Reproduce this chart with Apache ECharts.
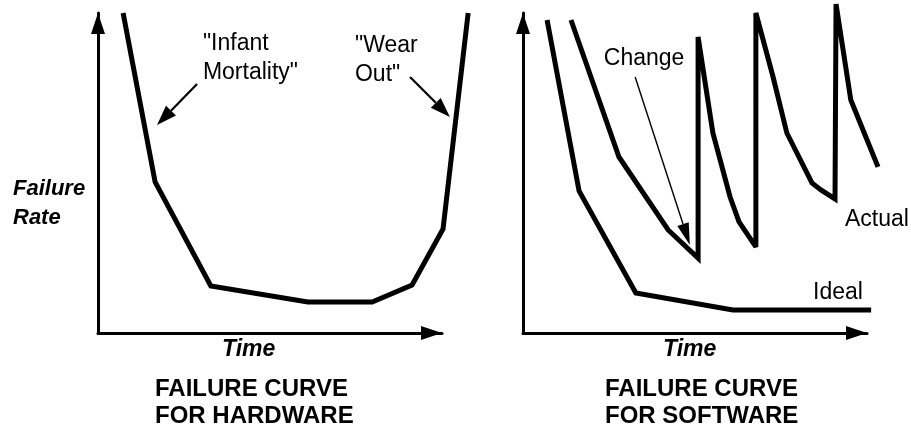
<!DOCTYPE html>
<html>
<head>
<meta charset="utf-8">
<script src="https://cdn.jsdelivr.net/npm/echarts@6/dist/echarts.min.js"></script>
<style>html,body{margin:0;padding:0;background:#fff}#c{width:911px;height:429px}</style>
</head>
<body>
<div id="c"></div>
<script>
// ---- Data (time / failure-rate in arbitrary units 0..100) ----
const hwTime = [7.3, 16.6, 32.8, 61.0, 79.7, 91.3, 100.3, 107.6];
const hwRate = [100, 47.2, 14.7, 9.7, 9.7, 15.0, 32.5, 100];

const idealTime = [7.0, 16.3, 32.8, 61.0, 101.2];
const idealRate = [97.8, 44.4, 12.5, 7.2, 7.2];

const actualTime = [13.95, 27.9, 42.2, 50.9, 50.9, 55.2, 60.2, 62.8, 67.7, 67.7, 72.7, 76.7, 84.0, 86.6, 90.7, 91.0, 95.3, 103.2];
const actualRate = [97.8, 55.0, 32.2, 23.4, 92.5, 62.5, 42.5, 34.7, 26.9, 100, 80.0, 62.5, 46.9, 44.7, 41.9, 102.8, 72.8, 51.9];

// annotation arrows: [fromTime, fromRate, toTime, toRate]
const hwArrows = [[28.8, 77.8, 17.15, 65.0], [90.7, 80.0, 102.3, 67.5]];
const swArrows = [[32.6, 80.0, 48.5, 27.5]];

// annotation texts: [time, rate, text]
const hwNotes = [[30.5, 95.0, '"Infant\nMortality"'], [74.7, 94.4, '"Wear\nOut"']];
const swNotes = [[23.5, 90.3, 'Change'], [93.6, 40.0, 'Actual'], [84.3, 17.0, 'Ideal']];

const panelTitles = ['FAILURE CURVE\nFOR HARDWARE', 'FAILURE CURVE\nFOR SOFTWARE'];
const xAxisTitle = 'Time';
const yAxisTitle = 'Failure\nRate';

// ---- Chart ----
const FONT = '"Liberation Sans", Arial, Helvetica, sans-serif';
const zip = (a, b) => a.map((v, i) => [v, b[i]]);

function axis(gridIndex) {
  return {
    gridIndex, type: 'value', min: 0, max: 100,
    axisLine: { show: true, onZero: false, symbol: ['none', 'triangle'], symbolSize: [14, 21], symbolOffset: [0, -10.5],
      lineStyle: { color: '#000', width: 3 } },
    axisTick: { show: false }, axisLabel: { show: false }, splitLine: { show: false }
  };
}

function arrowItem(headLen, headW, lw) {
  return function (params, api) {
    const a = api.coord([api.value(0), api.value(1)]);
    const b = api.coord([api.value(2), api.value(3)]);
    const dx = b[0] - a[0], dy = b[1] - a[1], len = Math.hypot(dx, dy);
    const ux = dx / len, uy = dy / len;
    const bx = b[0] - ux * headLen, by = b[1] - uy * headLen;
    const px = -uy * headW / 2, py = ux * headW / 2;
    return {
      type: 'group', children: [
        { type: 'line', shape: { x1: a[0], y1: a[1], x2: bx, y2: by }, style: { stroke: '#000', lineWidth: lw } },
        { type: 'polygon', shape: { points: [[b[0], b[1]], [bx + px, by + py], [bx - px, by - py]] }, style: { fill: '#000' } }
      ]
    };
  };
}

// whole curve drawn as one polyline (so it may run past the axis arrows, as in the original)
function curve(xi, xs, ys) {
  return {
    type: 'custom', xAxisIndex: xi, yAxisIndex: xi, data: zip(xs, ys), clip: false, silent: true,
    encode: { x: 0, y: 1 },
    renderItem: function (params, api) {
      if (params.dataIndex !== 0) return;
      const pts = xs.map((x, i) => api.coord([x, ys[i]]));
      return { type: 'polyline', shape: { points: pts },
        style: { stroke: '#000', fill: null, lineWidth: 5, lineJoin: 'miter', miterLimit: 3, lineCap: 'butt' } };
    }
  };
}

function notes(xi, data) {
  return {
    type: 'scatter', xAxisIndex: xi, yAxisIndex: xi, data, symbolSize: 0, clip: false, silent: true,
    itemStyle: { opacity: 1 },
    label: { show: true, position: 'inside', align: 'left', verticalAlign: 'top', formatter: p => p.value[2],
      color: '#000', opacity: 1, fontFamily: FONT, fontSize: 23, lineHeight: 29 }
  };
}

const titleStyle = { color: '#000', fontFamily: FONT, fontSize: 24, fontWeight: 'bold', lineHeight: 27 };
const axisTitleStyle = { color: '#000', fontFamily: FONT, fontSize: 23, fontWeight: 'bold', fontStyle: 'italic', lineHeight: 29 };
const yTitleStyle = Object.assign({}, axisTitleStyle, { fontSize: 22 });

const chart = echarts.init(document.getElementById('c'), null, { renderer: 'canvas' });
chart.setOption({
  animation: false,
  backgroundColor: '#fff',
  title: [
    { text: panelTitles[0], left: 155, top: 376, padding: 0, textStyle: titleStyle },
    { text: panelTitles[1], left: 605, top: 376, padding: 0, textStyle: titleStyle },
    { text: xAxisTitle, left: 222, top: 335, padding: 0, textStyle: axisTitleStyle },
    { text: xAxisTitle, left: 663, top: 335, padding: 0, textStyle: axisTitleStyle },
    { text: yAxisTitle, left: 13, top: 174, padding: 0, textStyle: yTitleStyle }
  ],
  grid: [
    { left: 98, top: 13, width: 344, height: 320 },
    { left: 523, top: 13, width: 344, height: 320 }
  ],
  xAxis: [axis(0), axis(1)],
  yAxis: [axis(0), axis(1)],
  series: [
    curve(0, hwTime, hwRate),
    curve(1, idealTime, idealRate),
    curve(1, actualTime, actualRate),
    { type: 'custom', xAxisIndex: 0, yAxisIndex: 0, data: hwArrows, clip: false, silent: true,
      encode: { x: [0, 2], y: [1, 3] }, renderItem: arrowItem(20, 14, 2.2) },
    { type: 'custom', xAxisIndex: 1, yAxisIndex: 1, data: swArrows, clip: false, silent: true,
      encode: { x: [0, 2], y: [1, 3] }, renderItem: arrowItem(22, 12, 1.4) },
    notes(0, hwNotes),
    notes(1, swNotes)
  ]
});
</script>
</body>
</html>
